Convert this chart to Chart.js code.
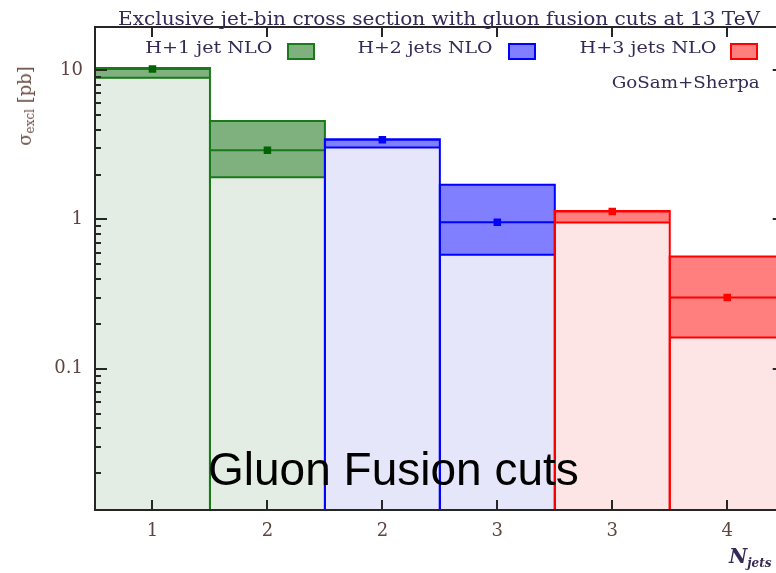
<!DOCTYPE html>
<html>
<head>
<meta charset="utf-8">
<script src="https://cdn.jsdelivr.net/npm/chart.js@4.4.1/dist/chart.umd.min.js"></script>
<style>
  html, body { margin: 0; padding: 0; background: #fff; overflow: hidden; }
  #wrap { position: relative; width: 776px; height: 573px; overflow: hidden; background: #fff; }
  #c { position: absolute; left: 0; top: 0; }
  .t { position: absolute; white-space: nowrap; line-height: 1; font-family: 'DejaVu Serif', serif; }
  .sw { position: absolute; box-sizing: border-box; border-width: 2px; border-style: solid; }
</style>
</head>
<body>
<div id="wrap">
  <canvas id="c" width="790" height="573"></canvas>
  <div id="title" class="t" style="left:118px; top:9px; font-size:19px; color:#352a55;">Exclusive jet-bin cross section with gluon fusion cuts at 13 TeV</div>
  <div id="gosam" class="t" style="right:16px; top:75px; font-size:16.5px; color:#352a55;">GoSam+Sherpa</div>
  <div id="ytitle" class="t" style="left:26px; top:106px; font-size:18px; color:#6a4c42; transform:translate(-50%,-50%) rotate(-90deg);">σ<sub style="font-size:12px; vertical-align:-3px;">excl</sub>&nbsp;[pb]</div>
  <div id="note" class="t" style="left:208px; top:446px; font-family:'Liberation Sans', Arial, sans-serif; font-size:46px; color:#000;">Gluon Fusion cuts</div>
  <div id="xtitle" class="t" style="left:729px; top:546px; font-size:20px; font-weight:bold; font-style:italic; color:#352a55;">N<sub style="font-size:12px; vertical-align:-4px;">jets</sub></div>
</div>
<script>
// Exclusive jet-bin cross sections (pb), one bin per jet multiplicity and sample
const binLabels = ['1', '2', '2', '3', '3', '4'];
const binSeries = [0, 0, 1, 1, 2, 2];
const seriesNames = ['H+1 jet NLO', 'H+2 jets NLO', 'H+3 jets NLO'];
const central = [10.2, 2.91, 3.42, 0.96, 1.13, 0.30];
const upper   = [10.35, 4.57, 3.45, 1.71, 1.14, 0.565];
const lower   = [8.9, 1.92, 3.04, 0.58, 0.955, 0.162];

// y-axis range and labelled decades
const yMin = 0.0113, yMax = 19.5;
const yMajor = [0.1, 1, 10];
const yMajorText = ['0.1', '1', '10'];

// series styling
const seriesLine   = ['#1a7a1a', '#0000ff', '#ff0000'];
const seriesBand   = ['rgba(0,100,0,0.5)', 'rgba(0,0,255,0.5)', 'rgba(255,0,0,0.5)'];
const seriesLight  = ['#e4ede4', '#e6e6fa', '#fde5e5'];
const seriesMarker = ['#006400', '#0000ff', '#ff0000'];

// legend placement (right edge of label, left edge of swatch)
const legendTextRight = [272, 493, 717];
const legendSwatchLeft = [287, 508, 730];
const legendWidths = [127, 135, 137];

const wrap = document.getElementById('wrap');
const legendLabels = [];
seriesNames.forEach((name, s) => {
  const lab = document.createElement('div');
  lab.className = 't';
  lab.textContent = name;
  lab.style.cssText = `right:${776 - legendTextRight[s]}px; top:40px; font-size:16px; color:#352a55;`;
  wrap.appendChild(lab);
  legendLabels.push(lab);
  const sw = document.createElement('div');
  sw.className = 'sw';
  sw.style.cssText = `left:${legendSwatchLeft[s]}px; top:43px; width:28px; height:17px; background:${seriesBand[s]}; border-color:${seriesLine[s]};`;
  wrap.appendChild(sw);
});

// log ticks: every 1..9 x decade inside the range, decades marked as major
const yTicks = [];
[0.01, 0.1, 1, 10].forEach(d => {
  for (let k = 1; k <= 9; k++) {
    const v = k * d;
    if (v >= yMin && v <= yMax) yTicks.push({ value: v, major: k === 1 });
  }
});
function decadeLabel(v) {
  const i = yMajor.findIndex(m => Math.abs(m - v) < m * 1e-6);
  return i >= 0 ? yMajorText[i] : '';
}

const col = binSeries.map(s => ({ line: seriesLine[s], band: seriesBand[s], light: seriesLight[s], marker: seriesMarker[s] }));

const datasets = [];
// pale fill below the scale band
datasets.push({
  type: 'bar', order: 100, grouped: false, categoryPercentage: 1, barPercentage: 1,
  data: binLabels.map((_, i) => ({ x: i + 1, y: [yMin, lower[i]] })),
  backgroundColor: col.map(c => c.light), borderWidth: 0
});
// scale-variation band
datasets.push({
  type: 'bar', order: 99, grouped: false, categoryPercentage: 1, barPercentage: 1,
  data: binLabels.map((_, i) => ({ x: i + 1, y: [lower[i], upper[i]] })),
  backgroundColor: col.map(c => c.band), borderWidth: 0
});
// outline of each bin plus its lower and central lines; later bins drawn on top
binLabels.forEach((_, i) => {
  const x0 = i + 0.5, x1 = i + 1.5;
  datasets.push({
    type: 'line', order: 50 - i, spanGaps: false, tension: 0, fill: false,
    borderColor: col[i].line, borderWidth: 2, pointRadius: 0,
    data: [
      { x: x0, y: yMin }, { x: x0, y: upper[i] }, { x: x1, y: upper[i] }, { x: x1, y: yMin },
      { x: x1, y: null },
      { x: x0, y: lower[i] }, { x: x1, y: lower[i] },
      { x: x1, y: null },
      { x: x0, y: central[i] }, { x: x1, y: central[i] }
    ]
  });
});
// central value markers
datasets.push({
  type: 'line', order: 0, showLine: false,
  data: binLabels.map((_, i) => ({ x: i + 1, y: central[i] })),
  pointStyle: 'rect', pointRadius: 5.3, pointBorderWidth: 0,
  pointBackgroundColor: col.map(c => c.marker)
});

// frame with inward tick marks on all four sides
const framePlugin = {
  id: 'frame',
  afterDatasetsDraw(chart) {
    const { ctx, chartArea: a, scales: { x, y } } = chart;
    ctx.save();
    ctx.strokeStyle = '#262626';
    ctx.lineWidth = 2;
    ctx.beginPath();
    y.ticks.forEach(t => {
      const py = Math.round(y.getPixelForValue(t.value));
      const len = t.major ? 12 : 6;
      ctx.moveTo(a.left, py); ctx.lineTo(a.left + len, py);
      ctx.moveTo(a.right, py); ctx.lineTo(a.right - len, py);
    });
    x.ticks.forEach(t => {
      const px = Math.round(x.getPixelForValue(t.value));
      ctx.moveTo(px, a.bottom); ctx.lineTo(px, a.bottom - 10);
      ctx.moveTo(px, a.top); ctx.lineTo(px, a.top + 10);
    });
    ctx.stroke();
    ctx.strokeRect(a.left, a.top, a.right - a.left, a.bottom - a.top);
    ctx.restore();
  }
};

Chart.defaults.font.family = "'DejaVu Serif', serif";

new Chart(document.getElementById('c'), {
  type: 'bar',
  data: { datasets },
  options: {
    responsive: false,
    animation: false,
    devicePixelRatio: 1,
    events: [],
    layout: { padding: { left: 0, top: 27, right: 5, bottom: 0 } },
    plugins: { legend: { display: false }, tooltip: { enabled: false }, title: { display: false } },
    scales: {
      x: {
        type: 'linear', min: 0.5, max: 6.5, bounds: 'data', offset: false,
        grid: { display: false, drawTicks: false }, border: { display: false },
        afterBuildTicks: s => { s.ticks = binLabels.map((_, i) => ({ value: i + 1 })); },
        afterFit: s => { s.height = 63; },
        ticks: { autoSkip: false, maxRotation: 0, padding: 11, color: '#5e4440', font: { size: 18 },
                 callback: (v, i) => binLabels[i] }
      },
      y: {
        type: 'logarithmic', min: yMin, max: yMax, bounds: 'data',
        grid: { display: false, drawTicks: false }, border: { display: false },
        afterBuildTicks: s => { s.ticks = yTicks.map(t => ({ value: t.value, major: t.major })); },
        afterFit: s => { s.width = 95; },
        ticks: { autoSkip: false, padding: 12, color: '#5e4440', font: { size: 18 },
                 callback: v => decadeLabel(v) }
      }
    }
  },
  plugins: [framePlugin]
});

// stretch text runs to their measured extents
function fitWidth(el, w, fromRight) {
  const r = el.getBoundingClientRect().width;
  el.style.transformOrigin = fromRight ? 'right center' : 'left center';
  el.style.transform = `scaleX(${w / r})`;
}
fitWidth(document.getElementById('title'), 642, false);
fitWidth(document.getElementById('gosam'), 148, true);
legendLabels.forEach((el, s) => fitWidth(el, legendWidths[s], true));
</script>
</body>
</html>
